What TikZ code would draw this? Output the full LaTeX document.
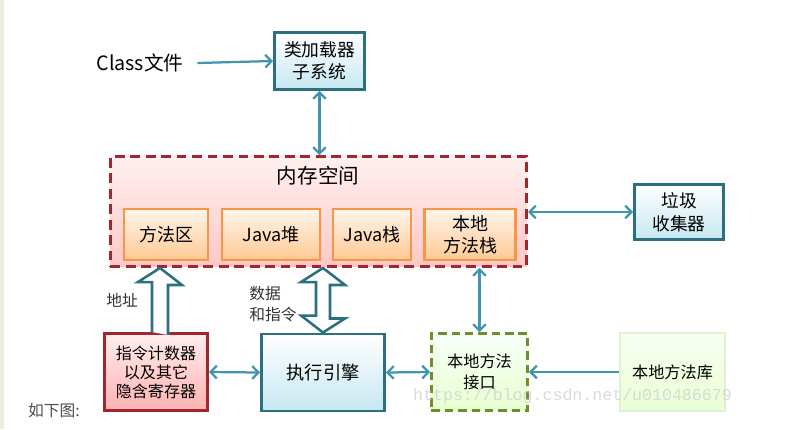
\documentclass[tikz,border=0pt]{standalone}
\usepackage{fontspec}
\setmainfont{Noto Sans CJK SC}
\newfontfamily\markfont{Liberation Mono}
\usepackage{tikz}
\usetikzlibrary{shapes,arrows,arrows.meta,positioning,calc}
\definecolor{tealline}{HTML}{2C6F7E}
\definecolor{linkblue}{HTML}{4295AE}
\definecolor{skyfill}{HTML}{C6E7F1}
\definecolor{memred}{HTML}{A0282D}
\definecolor{areaorange}{HTML}{F79646}
\definecolor{ifgreen}{HTML}{6F8F2F}
\definecolor{libline}{HTML}{E2EFD2}
\definecolor{strip}{HTML}{EDEEE0}
\tikzset{
	bluebox/.style={rectangle, draw=tealline, line width=2.1pt, shade, top color=white, bottom color=skyfill, align=center, font=\fontsize{12.6}{16}\selectfont},
	areabox/.style={rectangle, draw=areaorange, line width=1.8pt, shade, top color=orange!8, bottom color=orange!42, align=center, minimum height=1.275cm, font=\fontsize{12.8}{15.6}\selectfont},
	link/.style={draw=linkblue, line width=1.6pt},
	hollowarrow/.style={draw=tealline, line width=1.8pt, fill=white, line join=miter},
	note/.style={text=black!80, align=left, inner sep=0pt, font=\fontsize{11.2}{15}\selectfont}
}
\begin{document}
\begin{tikzpicture}[x=0.025cm, y=-0.025cm, >={Straight Barb[length=4.4pt,width=9pt]}]
	\useasboundingbox (0,0) rectangle (801,429);
	\fill[strip] (0,0) rectangle (4,429);
	% upper part
	\node (cls) at (140,63) [font=\fontsize{14}{16}\selectfont] {Class文件};
	\node (loader) at (319.5,61) [bluebox, minimum width=2.25cm, minimum height=1.425cm] {类加载器\\子系统};
	\node (mem) at (318.5,211.5) [rectangle, draw=memred, line width=2.1pt, dash pattern=on 7pt off 4pt, shade, top color=red!6, bottom color=red!22, minimum width=10.4cm, minimum height=2.75cm] {};
	\node (memtitle) at (318,176) [font=\fontsize{14.6}{16}\selectfont] {内存空间};
	\node (method) at (166,234.5) [areabox, minimum width=2.1cm] {方法区};
	\node (heap) at (271,234.5) [areabox, minimum width=2.45cm] {Java堆};
	\node (stack) at (372,234.5) [areabox, minimum width=1.95cm] {Java栈};
	\node (nstack) at (470,234.5) [areabox, minimum width=2.275cm] {本地\\方法栈};
	\node (gc) at (679,212) [bluebox, minimum width=2.225cm, minimum height=1.375cm] {垃圾\\收集器};
	% lower part
	\node (pc) at (156,372) [rectangle, draw=memred, line width=2.1pt, shade, top color=red!7, bottom color=red!30, minimum width=2.575cm, minimum height=1.925cm, align=center, font=\fontsize{11.4}{13.5}\selectfont] {指令计数器\\以及其它\\隐含寄存器};
	\node (exec) at (323,372.5) [bluebox, minimum width=3.075cm, minimum height=1.925cm, font=\fontsize{13}{16}\selectfont] {执行引擎};
	\node (iface) at (479.5,372) [rectangle, draw=ifgreen, line width=2.1pt, dash pattern=on 6pt off 3.5pt, shade, top color=green!3!white, bottom color=green!50!yellow!18, minimum width=2.4cm, minimum height=1.925cm, align=center, font=\fontsize{11.5}{15}\selectfont] {本地方法\\接口};
	\node (lib) at (672.5,372) [rectangle, draw=libline, line width=1.4pt, shade, top color=green!50!yellow!6, bottom color=green!50!yellow!17, minimum width=2.625cm, minimum height=1.95cm, font=\fontsize{11.5}{15}\selectfont] {本地方法库};
	\node (addr) at (122,300) [note] {地址};
	\node (data) at (249,304) [note, anchor=west] {数据\\和指令};
	\node (caption) at (54,411) [text=black!70, font=\fontsize{11.2}{13}\selectfont] {如下图:};
	% connectors
	\draw[link, ->] ($(cls.east)+(9,0)$) -- (loader.west);
	\draw[link, <->] (loader.south) -- (loader.south |- mem.north);
	\draw[link, <->] (gc.west -| mem.east) -- (gc.west);
	\draw[link, <->] (pc.east) -- (exec.west);
	\draw[link, <->] (exec.east) -- (iface.west);
	\draw[link, ->] (lib.west) -- (iface.east);
	\draw[link, <->] (iface.north) -- (iface.north |- mem.south);
	\draw[hollowarrow] ($(pc.north)+(-4,0)$) -- ++(0,-50) -- ++(-14,0) -- ($(pc.north |- mem.south)+(4,0)$) -- ++(22,17) -- ++(-14,0) -- ++(0,50);
	\draw[hollowarrow] (exec.north) -- ++(-22,-17) -- ++(15,0) -- ++(0,-33.5) -- ++(-15,0) -- (exec.north |- mem.south) -- ++(22,17) -- ++(-15,0) -- ++(0,33.5) -- ++(15,0) -- cycle;
	\node (mark) at (572.5,396) [text=black!18, opacity=0.8, font=\markfont\fontsize{11.8}{14}\selectfont] {https://blog.csdn.net/u010486679};
\end{tikzpicture}
\end{document}
